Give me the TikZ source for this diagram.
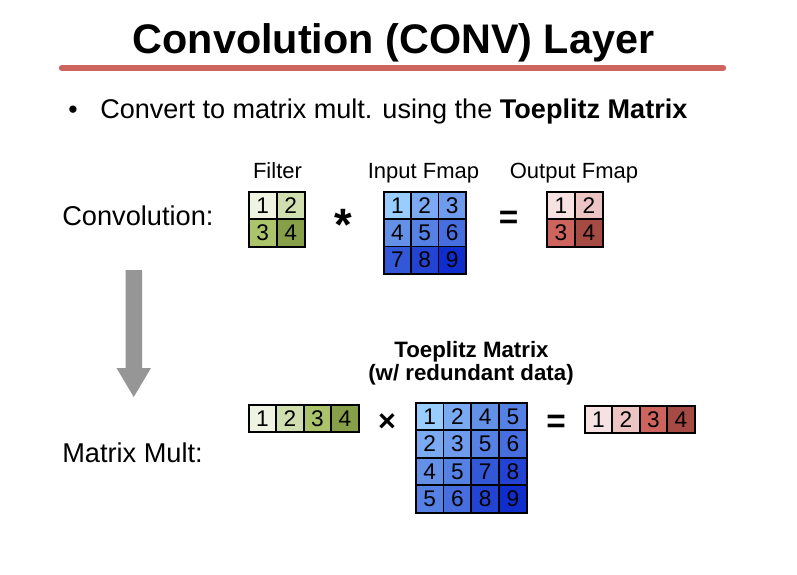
\documentclass[tikz,border=0pt]{standalone}
\usepackage{fontspec}
\setmainfont{Liberation Sans}
\definecolor{titlered}{RGB}{205,100,94}
\definecolor{arrowgray}{RGB}{150,150,150}
\definecolor{g1}{RGB}{238,243,226}
\definecolor{g2}{RGB}{209,223,176}
\definecolor{g3}{RGB}{171,196,108}
\definecolor{g4}{RGB}{135,159,72}
\definecolor{b1}{RGB}{153,204,255}
\definecolor{b2}{RGB}{122,170,242}
\definecolor{b3}{RGB}{110,155,235}
\definecolor{b4}{RGB}{100,145,232}
\definecolor{b5}{RGB}{85,128,228}
\definecolor{b6}{RGB}{70,110,222}
\definecolor{b7}{RGB}{50,88,215}
\definecolor{b8}{RGB}{35,68,210}
\definecolor{b9}{RGB}{15,45,205}
\definecolor{r1}{RGB}{246,226,226}
\definecolor{r2}{RGB}{236,196,196}
\definecolor{r3}{RGB}{206,100,94}
\definecolor{r4}{RGB}{166,74,68}
\tikzset{
  cellbox/.style={draw=black, line width=1.2pt, inner sep=0pt, anchor=north west,
    font=\fontsize{17}{17}\selectfont},
  lbl/.style={inner sep=0pt, anchor=base},
  lblw/.style={inner sep=0pt, anchor=base west},
}
\begin{document}
\begin{tikzpicture}[x=0.75pt,y=-0.75pt]
\useasboundingbox[fill=white] (0,0) rectangle (797,575);
% title
\node[lbl, font=\fontsize{31}{31}\selectfont\bfseries] (title) at (393.5,53) {Convolution (CONV) Layer};
\coordinate (rl) at (62,68);
\coordinate (rr) at (723,68);
\draw[titlered, line width=4.8pt, line cap=round] (rl) -- (rr);
% bullet
\node[lbl, font=\fontsize{20}{20}\selectfont] (bul) at (73,118) {•};
\node[lblw, font=\fontsize{20.3}{20}\selectfont] (btxt) at (100,118) {Convert to matrix mult. using the \textbf{Toeplitz Matrix}};
% labels
\node[lbl, font=\fontsize{16.5}{16}\selectfont] (lfilt) at (277.5,178) {Filter};
\node[lbl, font=\fontsize{16.5}{16}\selectfont] (lin) at (423.5,178) {Input Fmap};
\node[lbl, font=\fontsize{16.5}{16}\selectfont] (lout) at (574,178) {Output Fmap};
\node[lblw, font=\fontsize{20.4}{20}\selectfont] (lconv) at (62,225) {Convolution:};
\node[lblw, font=\fontsize{20.4}{20}\selectfont] (lmm) at (62,462) {Matrix Mult:};
\node[lbl, font=\fontsize{16.7}{16}\selectfont\bfseries] (ltop1) at (471.5,357) {Toeplitz Matrix};
\node[lbl, font=\fontsize{16.7}{16}\selectfont\bfseries] (ltop2) at (471,380) {(w/ redundant data)};
% operators
\node[lbl, font=\fontsize{34}{34}\selectfont\bfseries] (ast) at (343.5,240) {*};
\node[lbl, font=\fontsize{25}{25}\selectfont\bfseries] (eq1) at (508.5,228) {=};
\node[lbl, font=\fontsize{23}{23}\selectfont\bfseries] (times) at (387,431) {×};
\node[lbl, font=\fontsize{25}{25}\selectfont\bfseries] (eq2) at (556,432) {=};
% filter 2x2
\foreach \v [count=\i from 0] in {1,2,3,4}{
  \pgfmathsetmacro{\cx}{248+28*mod(\i,2)}
  \pgfmathsetmacro{\cy}{191+27.5*int(\i/2)}
  \node[cellbox, fill=g\v, minimum width=21pt, minimum height=20.6pt] (f\v) at (\cx,\cy) {\v};
}
% input 3x3
\foreach \v [count=\i from 0] in {1,...,9}{
  \pgfmathsetmacro{\cx}{383+27.33*mod(\i,3)}
  \pgfmathsetmacro{\cy}{191+27.33*int(\i/3)}
  \node[cellbox, fill=b\v, minimum width=20.5pt, minimum height=20.5pt] (in\v) at (\cx,\cy) {\v};
}
% output 2x2
\foreach \v [count=\i from 0] in {1,2,3,4}{
  \pgfmathsetmacro{\cx}{546+28*mod(\i,2)}
  \pgfmathsetmacro{\cy}{191+27.5*int(\i/2)}
  \node[cellbox, fill=r\v, minimum width=21pt, minimum height=20.6pt] (o\v) at (\cx,\cy) {\v};
}
% filter row
\foreach \v [count=\i from 0] in {1,2,3,4}{
  \pgfmathsetmacro{\cx}{248+27.5*\i}
  \node[cellbox, fill=g\v, minimum width=20.6pt, minimum height=20.25pt] (fr\v) at (\cx,404) {\v};
}
% toeplitz 4x4
\foreach \v [count=\i from 0] in {1,2,4,5,2,3,5,6,4,5,7,8,5,6,8,9}{
  \pgfmathsetmacro{\cx}{415+27.75*mod(\i,4)}
  \pgfmathsetmacro{\cy}{402+27.5*int(\i/4)}
  \node[cellbox, fill=b\v, minimum width=20.8pt, minimum height=20.6pt] (t\i) at (\cx,\cy) {\v};
}
% output row
\foreach \v [count=\i from 0] in {1,2,3,4}{
  \pgfmathsetmacro{\cx}{584+27.5*\i}
  \node[cellbox, fill=r\v, minimum width=20.6pt, minimum height=20.25pt] (or\v) at (\cx,405) {\v};
}
% big arrow
\fill[arrowgray] (125.5,270) -- (142,270) -- (142,368) -- (151,368) -- (133.75,397)
  -- (116.5,368) -- (125.5,368) -- cycle;
\end{tikzpicture}
\end{document}
